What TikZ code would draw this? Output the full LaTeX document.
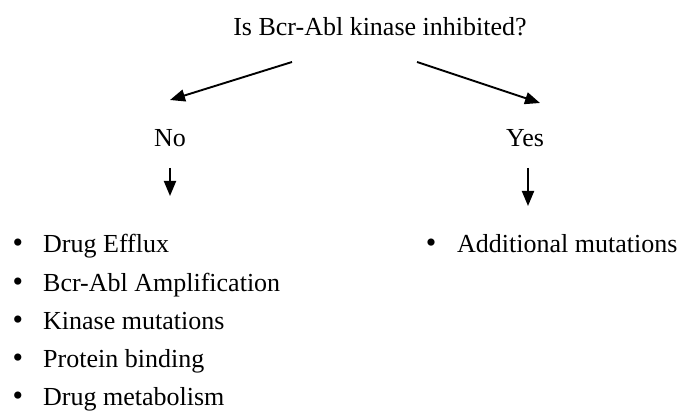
\documentclass[tikz,border=0pt]{standalone}
\usepackage{fontspec}
\setmainfont{Liberation Serif}
\usetikzlibrary{arrows.meta}
\begin{document}
\begin{tikzpicture}[x=1pt,y=-1pt,
  lbl/.style={font=\fontsize{26}{30}\selectfont, inner sep=0pt},
  item/.style={font=\fontsize{26}{30}\selectfont, inner sep=0pt, anchor=base west},
  bul/.style={font=\fontsize{30}{34}\selectfont, inner sep=0pt, anchor=base},
  arr/.style={line width=1.9pt, -{Triangle[length=15pt,width=12pt]}}]
\useasboundingbox (0,0) rectangle (679,411);
\node[lbl, anchor=base] (q) at (380,36) {Is Bcr-Abl kinase inhibited?};
\node[lbl] (no) at (170,138) {No};
\node[lbl] (yes) at (525,138) {Yes};
\coordinate (qa) at (292,62);
\coordinate (qb) at (417,62);
\coordinate (na) at (170,100);
\coordinate (ya) at (540,103);
\draw[arr] (qa) -- (na);
\draw[arr] (qb) -- (ya);
\coordinate (n1) at (170,168);
\coordinate (n2) at (170,196);
\coordinate (y1) at (528,168);
\coordinate (y2) at (528,206);
\draw[arr] (n1) -- (n2);
\draw[arr] (y1) -- (y2);
\foreach \t [count=\i] in {Drug Efflux, Bcr-Abl Amplification, Kinase mutations, Protein binding, Drug metabolism}{
  \node[bul] (b\i) at (18,253+38*\i-38) {•};
  \node[item] (l\i) at (43,253+38*\i-38) {\t};
}
\node[bul] (rb) at (431,253) {•};
\node[item] (r1) at (457,253) {Additional mutations};
\end{tikzpicture}
\end{document}
